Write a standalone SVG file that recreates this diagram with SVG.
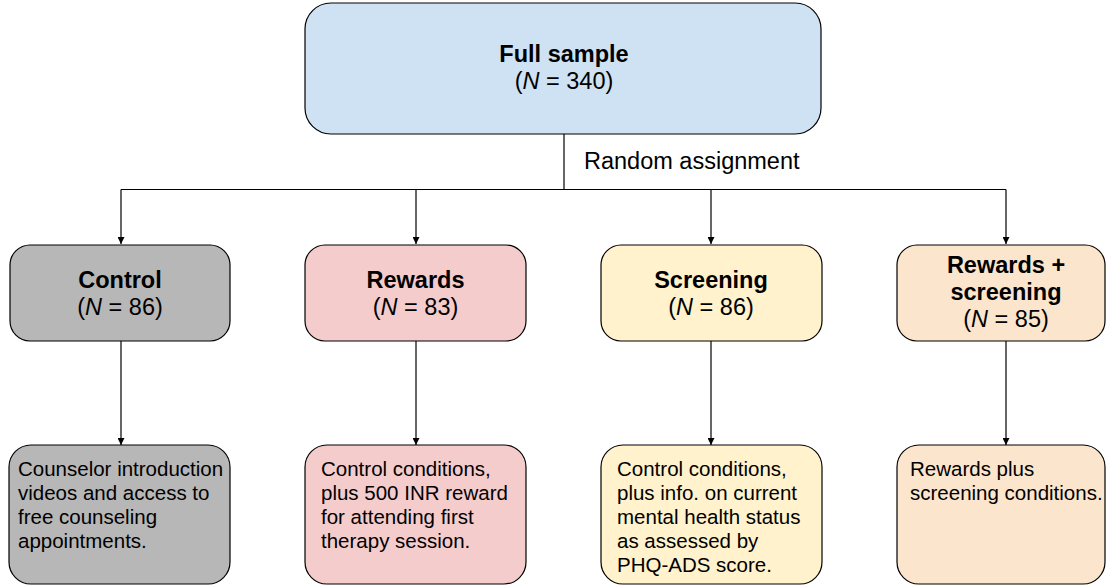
<svg xmlns="http://www.w3.org/2000/svg" width="1107" height="586" viewBox="0 0 1107 586">
<defs>
<marker id="ah" viewBox="0 0 10 10" refX="10" refY="5" markerWidth="7" markerHeight="7" markerUnits="userSpaceOnUse" orient="auto">
<path d="M0,0 L10,5 L0,10 z" fill="#000"/>
</marker>
<style>
.box{stroke:#000;stroke-width:1.2}
.t{font-family:"Liberation Sans",Arial,sans-serif;font-size:23.5px;fill:#000;text-anchor:middle}
.b{font-weight:bold}
.body{font-family:"Liberation Sans",Arial,sans-serif;font-size:20.5px;fill:#000}
.ln{stroke:#000;stroke-width:1.2;fill:none}
</style>
</defs>
<rect width="1107" height="586" fill="#fff"/>
<g id="connectors">
<path class="ln" d="M564,134 V189.5"/>
<path class="ln" d="M121,189.5 H1006"/>
<path class="ln" d="M121,189.5 V244" marker-end="url(#ah)"/>
<path class="ln" d="M416,189.5 V244" marker-end="url(#ah)"/>
<path class="ln" d="M711,189.5 V244" marker-end="url(#ah)"/>
<path class="ln" d="M1006,189.5 V244" marker-end="url(#ah)"/>
<path class="ln" d="M121,341 V445" marker-end="url(#ah)"/>
<path class="ln" d="M416,341 V445" marker-end="url(#ah)"/>
<path class="ln" d="M711,341 V445" marker-end="url(#ah)"/>
<path class="ln" d="M1006,341 V445" marker-end="url(#ah)"/>
<text class="body" x="584" y="169" style="font-size:23.5px">Random assignment</text>
</g>
<g id="full">
<rect class="box" x="305" y="3" width="516" height="131" rx="26" fill="#cfe2f3"/>
<text class="t b" x="564" y="62">Full sample</text>
<text class="t" x="564" y="89">(<tspan font-style="italic">N</tspan> = 340)</text>
</g>
<g id="control">
<rect class="box" x="10" y="245" width="220" height="96" rx="20" fill="#b7b7b7"/>
<text class="t b" x="120" y="288">Control</text>
<text class="t" x="120" y="315">(<tspan font-style="italic">N</tspan> = 86)</text>
</g>
<g id="rewards">
<rect class="box" x="305" y="245" width="221" height="96" rx="20" fill="#f4cccc"/>
<text class="t b" x="415.5" y="288">Rewards</text>
<text class="t" x="415.5" y="315">(<tspan font-style="italic">N</tspan> = 83)</text>
</g>
<g id="screening">
<rect class="box" x="601" y="245" width="221" height="96" rx="20" fill="#fff2cc"/>
<text class="t b" x="711" y="288">Screening</text>
<text class="t" x="711" y="315">(<tspan font-style="italic">N</tspan> = 86)</text>
</g>
<g id="rewards-screening">
<rect class="box" x="897" y="245" width="208" height="96" rx="20" fill="#fce5cd"/>
<text class="t b" x="1006" y="273">Rewards +</text>
<text class="t b" x="1006" y="300">screening</text>
<text class="t" x="1006" y="327">(<tspan font-style="italic">N</tspan> = 85)</text>
</g>
<g id="control-desc">
<rect class="box" x="9" y="445" width="221" height="139" rx="22" fill="#b7b7b7"/>
<text class="body" x="18" y="476">Counselor introduction</text>
<text class="body" x="18" y="500">videos and access to</text>
<text class="body" x="18" y="524">free counseling</text>
<text class="body" x="18" y="548">appointments.</text>
</g>
<g id="rewards-desc">
<rect class="box" x="305" y="445" width="221" height="139" rx="22" fill="#f4cccc"/>
<text class="body" x="321" y="476">Control conditions,</text>
<text class="body" x="321" y="500">plus 500 INR reward</text>
<text class="body" x="321" y="524">for attending first</text>
<text class="body" x="321" y="548">therapy session.</text>
</g>
<g id="screening-desc">
<rect class="box" x="601" y="445" width="221" height="139" rx="22" fill="#fff2cc"/>
<text class="body" x="617" y="476">Control conditions,</text>
<text class="body" x="617" y="500">plus info. on current</text>
<text class="body" x="617" y="524">mental health status</text>
<text class="body" x="617" y="548">as assessed by</text>
<text class="body" x="617" y="572">PHQ-ADS score.</text>
</g>
<g id="rewards-screening-desc">
<rect class="box" x="897" y="445" width="208" height="139" rx="22" fill="#fce5cd"/>
<text class="body" x="910" y="476">Rewards plus</text>
<text class="body" x="910" y="500">screening conditions.</text>
</g>
</svg>
